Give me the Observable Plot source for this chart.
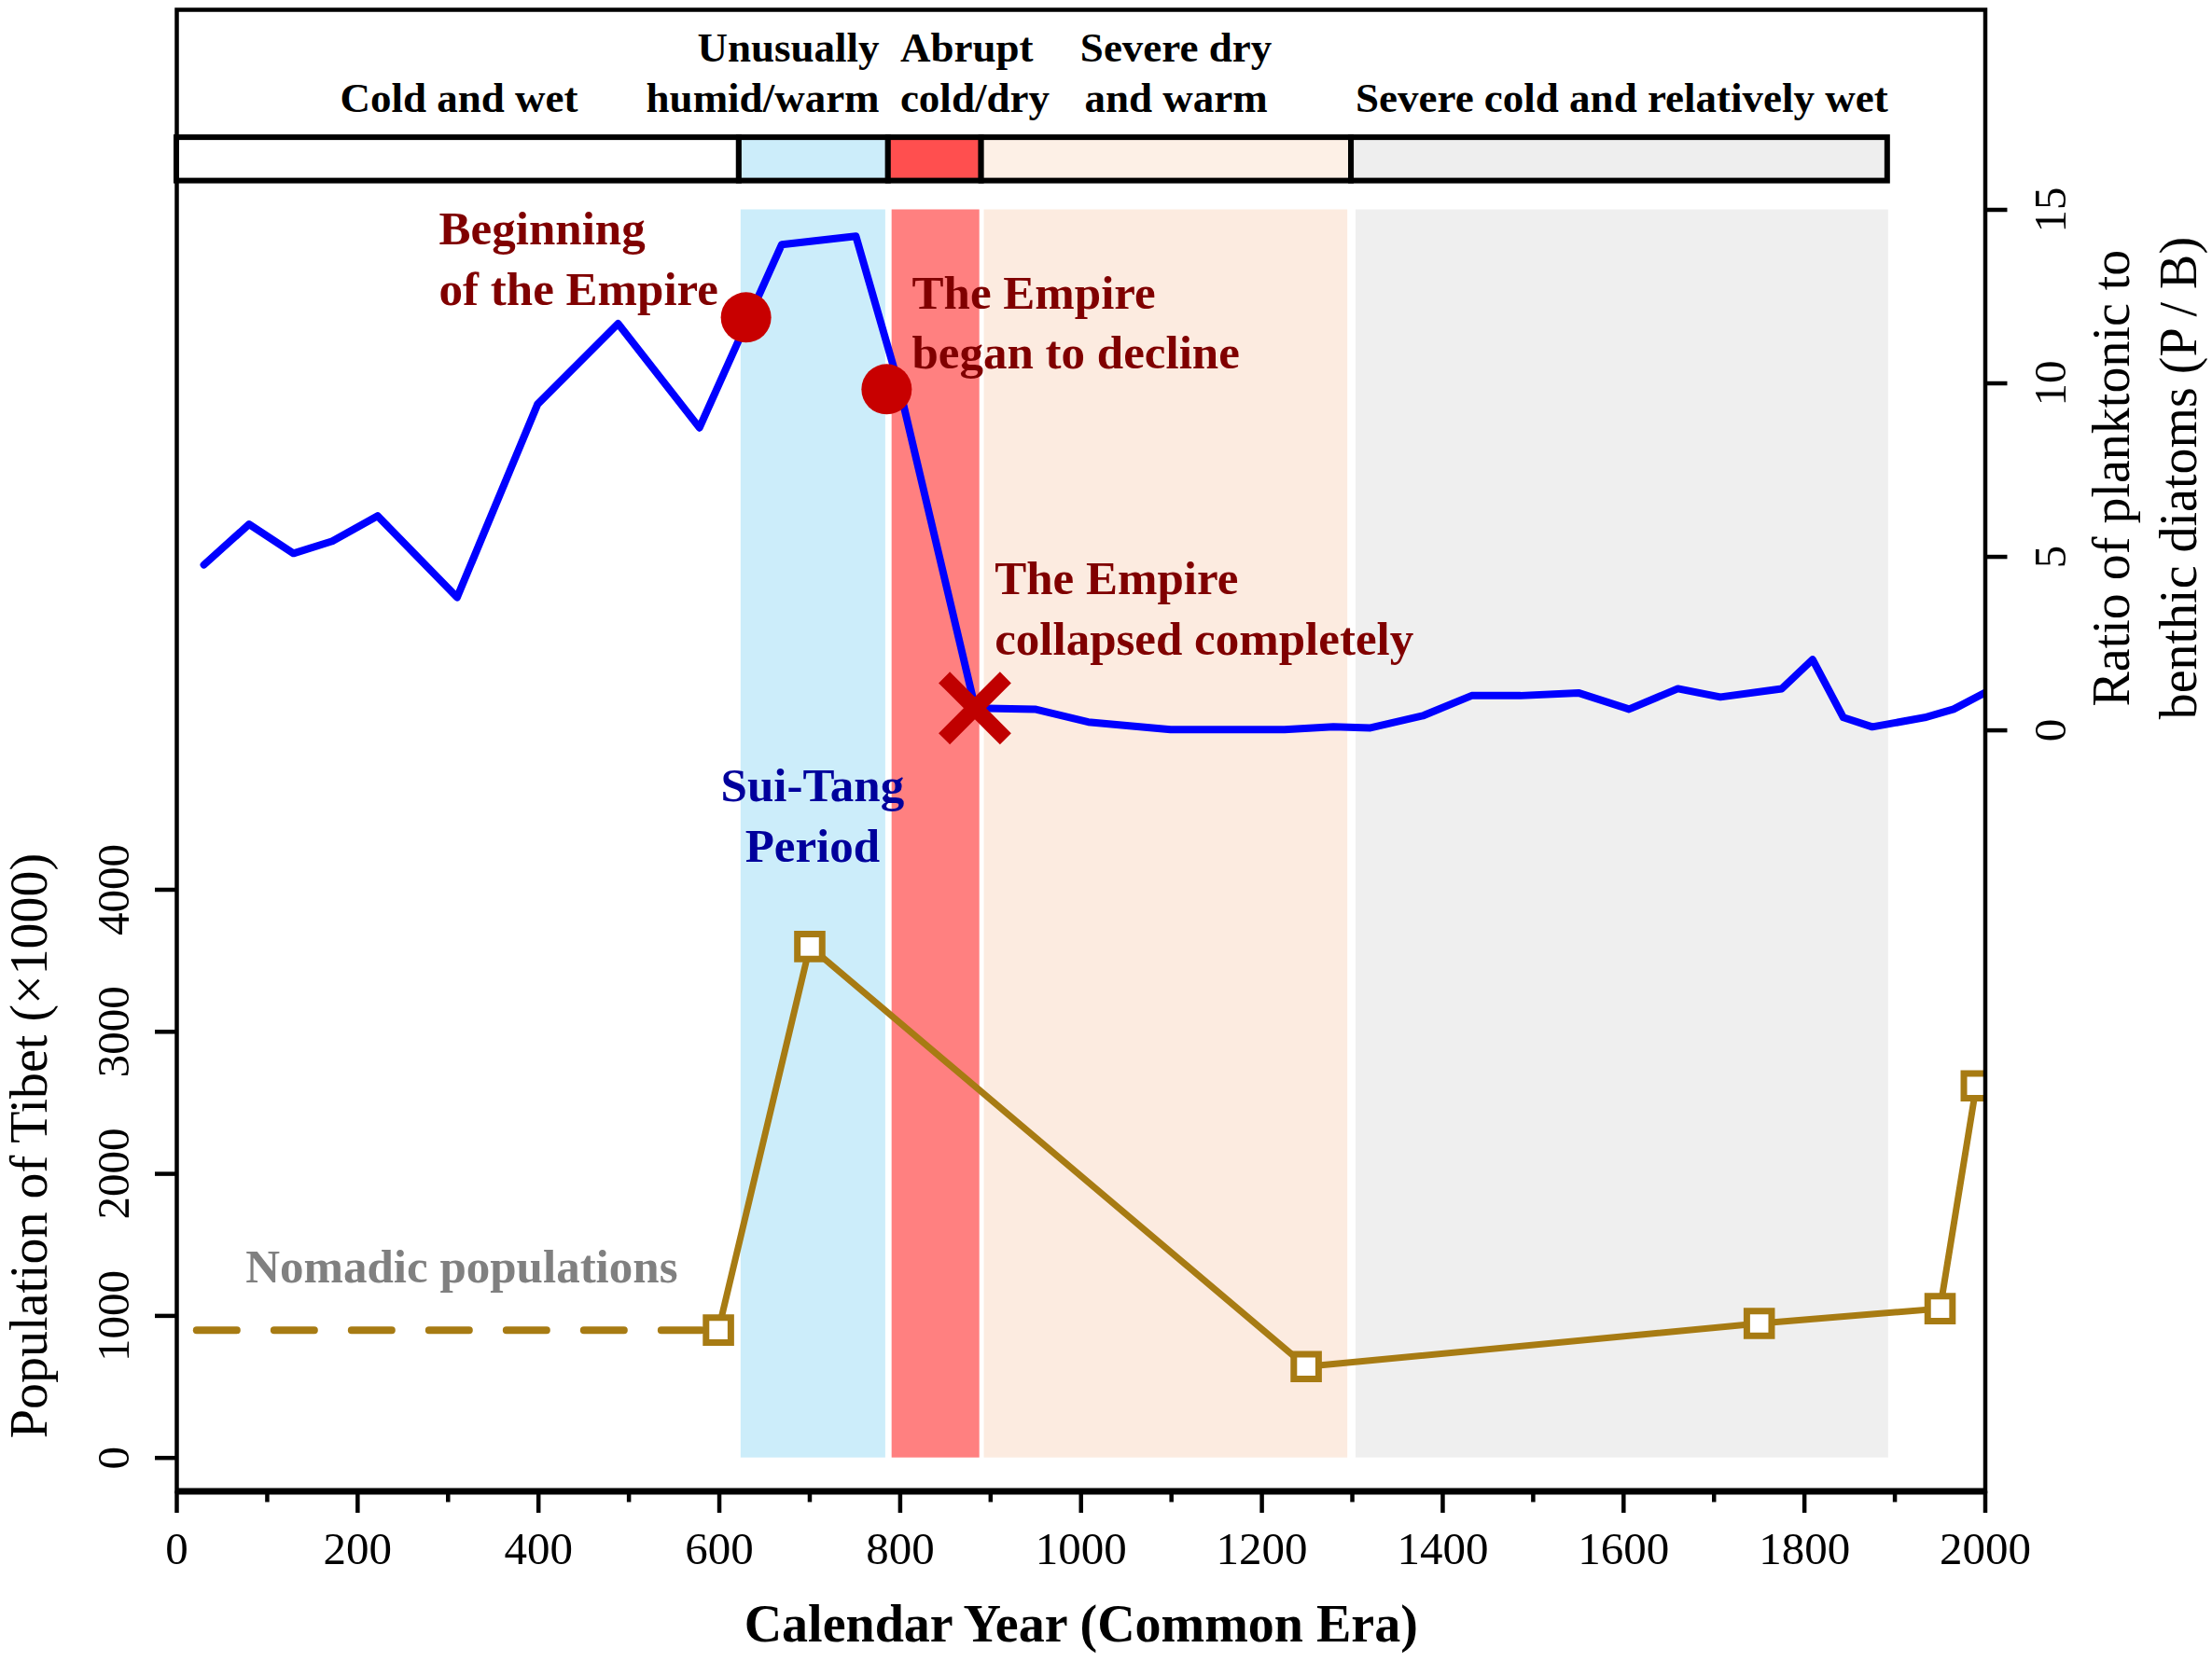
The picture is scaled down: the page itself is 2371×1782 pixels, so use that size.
<!DOCTYPE html>
<html>
<head>
<meta charset="utf-8">
<script src="https://cdn.jsdelivr.net/npm/d3@7"></script>
<script src="https://cdn.jsdelivr.net/npm/@observablehq/plot@0.6"></script>
<style>
  body { margin: 0; background: #ffffff; }
  #wrap { position: relative; width: 2371px; height: 1782px; background: #ffffff; }
  #wrap svg { position: absolute; left: 0; top: 0; }
</style>
</head>
<body>
<div id="wrap"></div>
<script>
// ---------------- data ----------------
// Ratio of planktonic to benthic diatoms (P/B)
const pbYears  = [30, 80, 129, 172, 222, 310, 399, 488, 578, 669, 751, 798, 883, 949, 1008, 1099, 1225, 1279, 1320, 1378, 1432, 1486, 1550, 1606, 1660, 1707, 1775, 1809, 1843, 1875, 1933, 1965, 2000];
const pbValues = [4.77, 5.94, 5.1, 5.45, 6.18, 3.83, 9.4, 11.72, 8.72, 14.0, 14.24, 10.0, 0.64, 0.61, 0.24, 0.02, 0.02, 0.1, 0.07, 0.42, 1.0, 1.0, 1.08, 0.61, 1.2, 0.96, 1.2, 2.04, 0.37, 0.1, 0.37, 0.61, 1.09];

// Population of Tibet (x1000)
const popYears  = [599, 700, 1249, 1750, 1950, 1990];
const popValues = [900, 3600, 643, 947, 1051, 2619];
// Nomadic populations (dashed)
const nomadYears  = [22, 599];
const nomadValues = [900, 900];

// Climate phases (top bar)
const climateNames  = ["Cold and wet", "Unusually\nhumid/warm", "Abrupt\ncold/dry", "Severe dry\nand warm", "Severe cold and relatively wet"];
const climateStart  = [0, 622, 787, 890, 1299];
const climateEnd    = [622, 787, 890, 1299, 1892];
const climateColors = ["#ffffff", "#ccedfa", "#ff4f4f", "#fdf0e6", "#eeeeee"];

// Shaded periods
const bandStart  = [624, 791, 893, 1304];
const bandEnd    = [784, 888, 1295, 1893];
const bandColors = ["#ccedfa", "#ff8080", "#fcebe0", "#efefef"];

// Events of the Empire
const eventYears  = [629.5, 785];
const eventValues = [11.9, 9.83];
const collapseYear  = 882.6;
const collapseValue = 0.64;

// Tick values
const xMajorTicks = [0, 200, 400, 600, 800, 1000, 1200, 1400, 1600, 1800, 2000];
const xMinorTicks = [100, 300, 500, 700, 900, 1100, 1300, 1500, 1700, 1900];
const popTicks = [0, 1000, 2000, 3000, 4000];
const pbTicks  = [0, 5, 10, 15];

// ---------------- layout ----------------
const W = 2371, H = 1782;
const mL = 189, mR = 243.5, mT = 10, mB = 183.5;
const xDomain   = [0, 2000];
const popDomain = [-235.1, 10195];
const pbDomain  = [-21.93, 20.765];

// annotation anchors (data units)
const climateLabelX = [312, 777, 800, 1105, 1598];
const climateLabelAnchor = ["middle", "end", "start", "middle", "middle"];
const climateLabelBase = 17.81;     // P/B units
const climateBarLow = 15.83, climateBarHigh = 17.08;
const annTexts = ["Beginning\nof the Empire", "The Empire\nbegan to decline", "The Empire\ncollapsed completely"];
const annX = [290, 813, 904.5];
const annY = [13.68, 11.85, 3.61];

const serif = "'Liberation Serif', 'Times New Roman', Times, serif";
const darkRed = "#800000";
const brown = "#a77b13";

// tables built from the arrays
const pbTable  = pbYears.map((year, i) => ({year, value: pbValues[i]}));
const popTable = popYears.map((year, i) => ({year, value: popValues[i]}));
const nomadTable = nomadYears.map((year, i) => ({year, value: nomadValues[i]}));
const climate = climateNames.map((name, i) => ({name, start: climateStart[i], end: climateEnd[i], color: climateColors[i], lx: climateLabelX[i], anchor: climateLabelAnchor[i]}));
const events = eventYears.map((year, i) => ({year, value: eventValues[i]}));
const annotations = annTexts.map((t, i) => ({t, x: annX[i], y: annY[i]}));

// band top aligned with P/B = 15 on the right axis
const pbPix  = d3.scaleLinear(pbDomain,  [H - mB, mT]);
const popPix = d3.scaleLinear(popDomain, [H - mB, mT]);
const bandTop = popPix.invert(pbPix(15));
const bands = bandStart.map((s, i) => ({start: s, end: bandEnd[i], color: bandColors[i], lo: 0, hi: bandTop}));

const common = {
  width: W, height: H,
  marginLeft: mL, marginRight: mR, marginTop: mT, marginBottom: mB,
  style: {fontFamily: serif, background: "transparent", overflow: "visible"}
};

// ---------------- layer 1: population ----------------
const popPlot = Plot.plot({
  ...common,
  x: {domain: xDomain, axis: null, nice: false},
  y: {domain: popDomain, axis: null, nice: false},
  marks: [
    Plot.rect(bands, {x1: "start", x2: "end", y1: "lo", y2: "hi", fill: "color"}),
    Plot.line(nomadTable, {x: "year", y: "value", stroke: brown, strokeWidth: 8, strokeDasharray: "43,40"}),
    Plot.line(popTable, {x: "year", y: "value", stroke: brown, strokeWidth: 7, strokeLinejoin: "round", clip: true}),
    Plot.dot(popTable, {x: "year", y: "value", symbol: "square", r: 15, fill: "white", stroke: brown, strokeWidth: 7, clip: true}),
    Plot.text([{t: "Sui-Tang\nPeriod", x: 703, y: 4544}], {x: "x", y: "y", text: "t", fill: "#00009c", fontSize: 51, fontWeight: "bold", lineHeight: 1.27, textAnchor: "middle"}),
    Plot.text([{t: "Nomadic populations", x: 315, y: 1346}], {x: "x", y: "y", text: "t", fill: "#808080", fontSize: 51, fontWeight: "bold", textAnchor: "middle"}),
    // x axis (major + minor ticks)
    Plot.axisX(xMajorTicks, {anchor: "bottom", tickSize: 23.5, tickPadding: 20, strokeWidth: 4.5, fontSize: 49, tickFormat: d => String(d), label: null}),
    Plot.axisX(xMinorTicks, {anchor: "bottom", tickSize: 12, strokeWidth: 4.5, fontSize: 49, tickFormat: () => "", label: null}),
    Plot.text([{t: "Calendar Year (Common Era)"}], {text: "t", frameAnchor: "bottom", dy: 161, lineAnchor: "bottom", fontSize: 56, fontWeight: "bold"}),
    // left axis
    Plot.axisY(popTicks, {anchor: "left", tickSize: 23, tickPadding: 29, tickRotate: -90, textAnchor: "middle", lineAnchor: "bottom", strokeWidth: 4.5, fontSize: 49, tickFormat: d => String(d), label: null}),
    Plot.text([{t: "Population of Tibet (×1000)", y: 2198}], {y: "y", text: "t", frameAnchor: "left", dx: -140, rotate: -90, textAnchor: "middle", lineAnchor: "bottom", fontSize: 56})
  ]
});

// ---------------- layer 2: P/B ratio ----------------
const pbPlot = Plot.plot({
  ...common,
  x: {domain: xDomain, axis: null, nice: false},
  y: {domain: pbDomain, axis: null, nice: false},
  marks: [
    // climate bar
    Plot.rect(climate, {x1: "start", x2: "end", y1: () => climateBarLow, y2: () => climateBarHigh, fill: "color", stroke: "black", strokeWidth: 6}),
    ...["middle", "end", "start"].map(a =>
      Plot.text(climate.filter(d => d.anchor === a), {x: "lx", y: () => climateLabelBase, text: "name", textAnchor: a, lineAnchor: "bottom", lineHeight: 1.22, fontSize: 45, fontWeight: "bold", fill: "black"})
    ),
    // P/B series
    Plot.line(pbTable, {x: "year", y: "value", stroke: "#0000ff", strokeWidth: 8, strokeLinejoin: "round", clip: true}),
    Plot.dot(events, {x: "year", y: "value", r: 27, fill: "#c80000"}),
    Plot.dot([{year: collapseYear, value: collapseValue}], {x: "year", y: "value", symbol: "times", r: 30, stroke: "#c00000", strokeWidth: 17}),
    Plot.text(annotations, {x: "x", y: "y", text: "t", textAnchor: "start", lineHeight: 1.27, fontSize: 51, fontWeight: "bold", fill: darkRed}),
    // right axis
    Plot.axisY(pbTicks, {anchor: "right", tickSize: 23, tickPadding: 62.5, tickRotate: -90, textAnchor: "middle", lineAnchor: "bottom", strokeWidth: 4.5, fontSize: 49, tickFormat: d => String(d), label: null}),
    Plot.text([{t: "Ratio of planktonic to\nbenthic diatoms (P / B)", y: 7.27}], {y: "y", text: "t", frameAnchor: "right", dx: 225.5, rotate: -90, textAnchor: "middle", lineAnchor: "bottom", lineHeight: 1.27, fontSize: 56}),
    // frame
    Plot.frame({stroke: "black", strokeWidth: 4.5}),
    Plot.ruleY([pbDomain[0]], {stroke: "black", strokeWidth: 7})
  ]
});

const wrap = document.getElementById("wrap");
wrap.appendChild(popPlot);
wrap.appendChild(pbPlot);
</script>
</body>
</html>
